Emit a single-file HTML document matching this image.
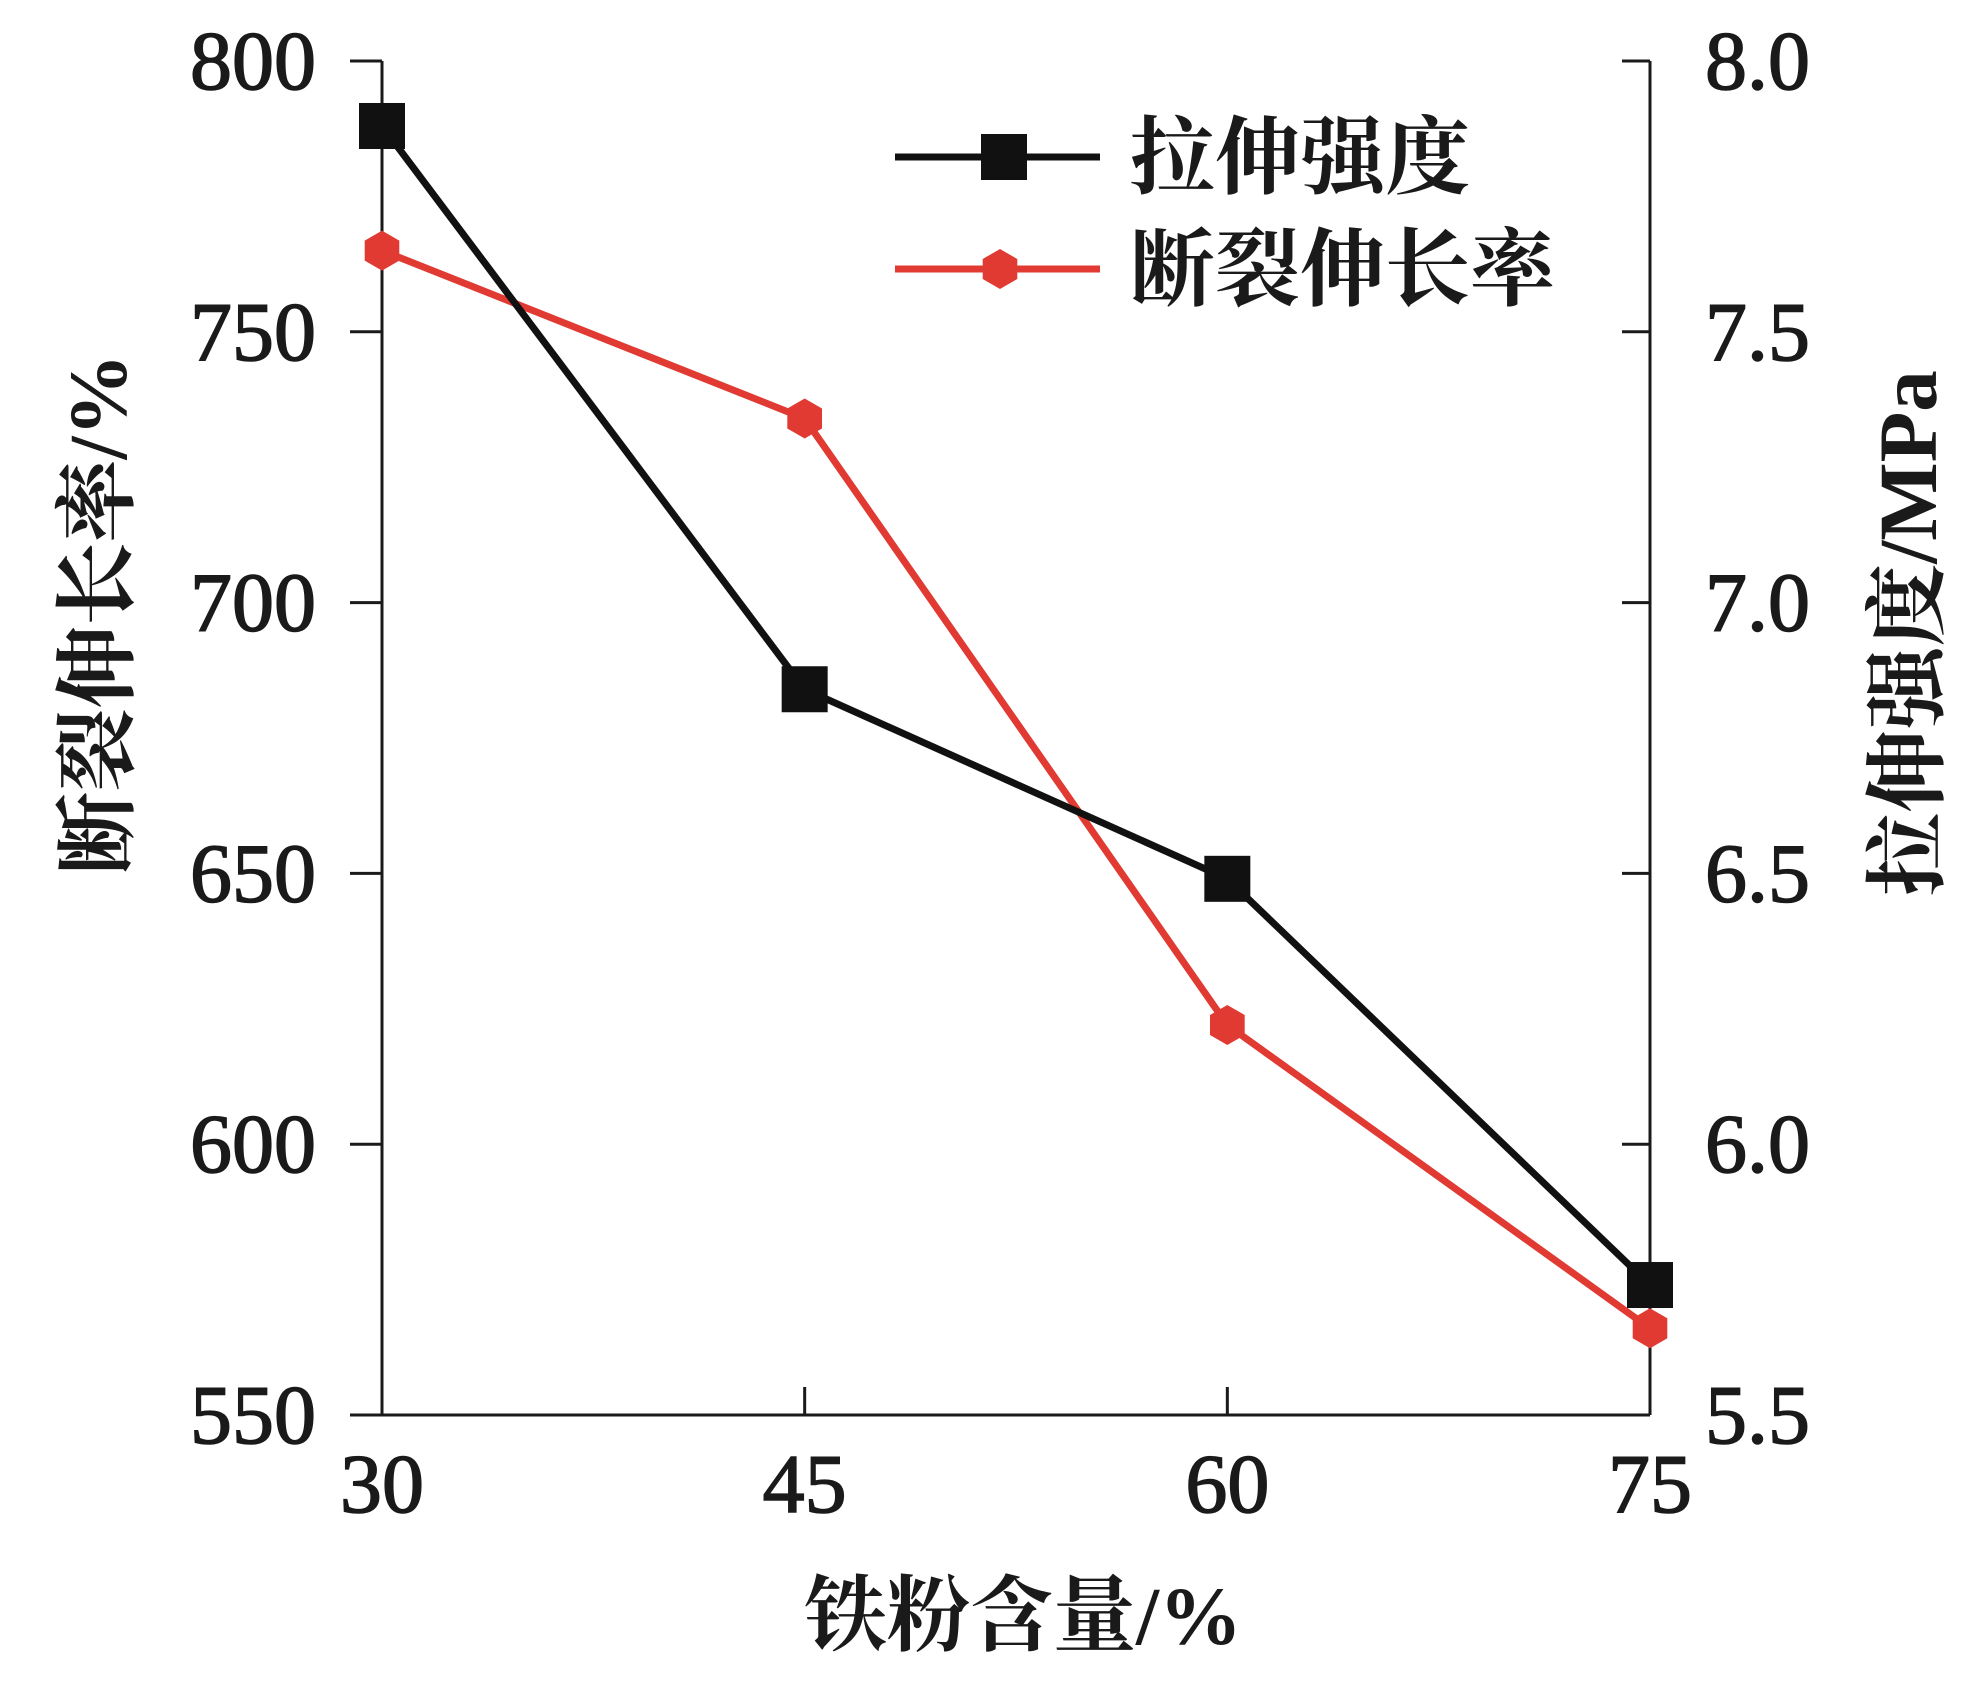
<!DOCTYPE html>
<html><head><meta charset="utf-8"><style>
html,body{margin:0;padding:0;background:#fff;}
svg{display:block;}
.tk{font-family:"Liberation Serif",serif;font-size:84px;fill:#1a1a1a;stroke:#1a1a1a;stroke-width:1.5;}
.cn{font-family:"Liberation Serif","Noto Serif CJK SC",serif;font-weight:bold;fill:#1a1a1a;}
</style></head><body>
<svg id="chart" width="1988" height="1692" viewBox="0 0 1988 1692"></svg>
<script>
const categories=[30,45,60,75];
const tensileStrength=[7.88,6.84,6.49,5.74];
const elongation=[765,734,622,566];
const leftTicks=[550,600,650,700,750,800];
const rightTicks=["5.5","6.0","6.5","7.0","7.5","8.0"];

const X0=382,X1=1650,Y0=1415,Y1=61;
const xs=v=>X0+(v-30)/(75-30)*(X1-X0);
const yl=v=>Y0-(v-550)/(800-550)*(Y0-Y1);
const yr=v=>Y0-(v-5.5)/(8.0-5.5)*(Y0-Y1);
const svg=document.getElementById('chart');
const NS='http://www.w3.org/2000/svg';
function mk(tag,attrs,parent){const e=document.createElementNS(NS,tag);for(const k in attrs)e.setAttribute(k,attrs[k]);(parent||svg).appendChild(e);return e;}

let e=mk('line',{x1:X0,y1:Y1,x2:X0,y2:Y0,stroke:'#1a1a1a','stroke-width':3});


e=mk('line',{x1:X1,y1:Y1,x2:X1,y2:Y0,stroke:'#1a1a1a','stroke-width':3});


e=mk('line',{x1:X0,y1:Y0,x2:X1,y2:Y0,stroke:'#1a1a1a','stroke-width':3});



leftTicks.forEach(v=>{
  const y=yl(v);
  let t=mk('line',{x1:X0-32,y1:y,x2:X0,y2:y,stroke:'#1a1a1a','stroke-width':3});
  
  
  let l=mk('text',{x:316,y:y+28,'text-anchor':'end',class:'tk'});l.textContent=v;
  
  
});
rightTicks.forEach(s=>{
  const y=yr(parseFloat(s));
  let t=mk('line',{x1:X1-28,y1:y,x2:X1,y2:y,stroke:'#1a1a1a','stroke-width':3});
  
  
  let l=mk('text',{x:1705,y:y+28,'text-anchor':'start',class:'tk'});l.textContent=s;
  
  
});
categories.forEach(c=>{
  const x=xs(c);
  let t=mk('line',{x1:x,y1:Y0-28,x2:x,y2:Y0,stroke:'#1a1a1a','stroke-width':3});
  
  
  let l=mk('text',{x:x,y:1512,'text-anchor':'middle',class:'tk'});l.textContent=c;
  
  
});

function pent(cx,cy,r){let p=[];for(let i=0;i<6;i++){const a=Math.PI/3*i+Math.PI/6;p.push((cx+r*Math.cos(a)).toFixed(1)+','+(cy+r*Math.sin(a)).toFixed(1));}return p.join(' ');}

let pl=mk('polyline',{points:categories.map((c,i)=>xs(c)+','+yl(elongation[i])).join(' '),fill:'none',stroke:'#e03a32','stroke-width':7,'stroke-linejoin':'round'});


let bl=mk('polyline',{points:categories.map((c,i)=>xs(c)+','+yr(tensileStrength[i])).join(' '),fill:'none',stroke:'#111','stroke-width':7,'stroke-linejoin':'round'});


categories.forEach((c,i)=>{
  let m=mk('rect',{x:xs(c)-23,y:yr(tensileStrength[i])-23,width:46,height:46,fill:'#111'});
  
  
});
categories.forEach((c,i)=>{
  let m=mk('polygon',{points:pent(xs(c),yl(elongation[i]),20),fill:'#e03a32'});
  
  
});

const lg=mk('g',{});


let a=mk('line',{x1:895,y1:157,x2:1100,y2:157,stroke:'#111','stroke-width':7},lg);


a=mk('rect',{x:981,y:134,width:46,height:46,fill:'#111'},lg);


a=mk('text',{x:1130,y:187,class:'cn','font-size':85},lg);a.textContent='拉伸强度';


a=mk('line',{x1:895,y1:269,x2:1100,y2:269,stroke:'#e03a32','stroke-width':7},lg);


a=mk('polygon',{points:pent(1000,269,20),fill:'#e03a32'},lg);


a=mk('text',{x:1130,y:299,class:'cn','font-size':85},lg);a.textContent='断裂伸长率';



let t=mk('text',{x:0,y:0,class:'cn','font-size':83,'text-anchor':'middle',transform:'translate(126,614) rotate(-90)'});t.textContent='断裂伸长率/%';


t=mk('text',{x:0,y:0,class:'cn','font-size':83,'text-anchor':'middle',transform:'translate(1936,633) rotate(-90)'});t.textContent='拉伸强度/MPa';


t=mk('text',{x:1023,y:1644,class:'cn','font-size':83,'text-anchor':'middle'});t.textContent='铁粉含量/%';


</script>
</body></html>
